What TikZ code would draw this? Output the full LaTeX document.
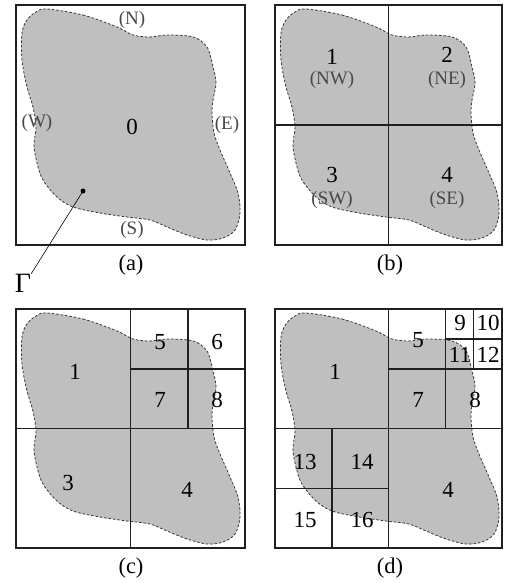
\documentclass[tikz,border=0pt]{standalone}
\usepackage{fontspec}
\setmainfont{Liberation Serif}
\begin{document}
\begin{tikzpicture}[x=1pt,y=-1pt,
  boxline/.style={draw=black!88,line width=1.5pt},
  blobfill/.style={fill=black!25,draw=black!78,dashed,dash pattern=on 2.6pt off 1.8pt,line width=0.8pt},
  num/.style={font=\fontsize{23}{25}\selectfont,inner sep=0pt,text=black},
  dir/.style={font=\fontsize{19}{21}\selectfont,inner sep=0pt,text=black!72},
  captext/.style={font=\fontsize{22.5}{24}\selectfont,inner sep=0pt}]
\useasboundingbox (0,0) rectangle (505,583);
\newcommand{\myblob}{plot[smooth cycle,tension=0.55] coordinates {(31,4) (67,10) (101,22) (117,30) (134,32) (151,30) (177,32) (191,42) (197,62) (200,78) (197,95) (196,108) (198,128) (204,145) (214,168) (222,188) (224,208) (219,225) (207,233) (191,235) (171,230) (151,222) (134,215) (111,212) (84,208) (57,202) (41,192) (27,175) (21,158) (18,140) (20,122) (17,102) (11,82) (6,55) (6,28) (11,15) (20,7)}}
% ---------- (a)
\begin{scope}[shift={(16,5)}]
  \path[blobfill] \myblob;
  \draw[boxline] (0,0) rectangle (229,240);
\end{scope}
\node[num] (z0) at (132,127) {0};
\node[dir] (n) at (132,20) {(N)};
\node[dir] (w) at (37,123) {(W)};
\node[dir] (e) at (227,125) {(E)};
\node[dir] (s) at (132,230) {(S)};
\node[circle,fill=black,inner sep=0pt,minimum size=5pt] (dot) at (83,191) {};
\node[font=\fontsize{28}{30}\selectfont,inner sep=0pt] (gamma) at (23,283) {Γ};
\draw[line width=0.6pt] (dot) -- (gamma.north east);
\node[captext] (ca) at (131,265) {(a)};
% ---------- (b)
\begin{scope}[shift={(275,5)}]
  \path[blobfill] \myblob;
  \draw[boxline] (0,0) rectangle (227,240);
  \draw[boxline] (113.5,0) -- (113.5,240) (0,120) -- (227,120);
\end{scope}
\node[num] (b1) at (332,57) {1};
\node[dir] (b1l) at (332,80) {(NW)};
\node[num] (b2) at (447,55) {2};
\node[dir] (b2l) at (447,80) {(NE)};
\node[num] (b3) at (332,175) {3};
\node[dir] (b3l) at (332,200) {(SW)};
\node[num] (b4) at (447,175) {4};
\node[dir] (b4l) at (447,200) {(SE)};
\node[captext] (cb) at (390,265) {(b)};
% ---------- (c)
\begin{scope}[shift={(16,309)}]
  \path[blobfill] \myblob;
  \draw[boxline] (0,0) rectangle (229,239);
  \draw[boxline] (114.5,0) -- (114.5,239) (0,119.5) -- (229,119.5);
  \draw[boxline] (171.75,0) -- (171.75,119.5) (114.5,59.75) -- (229,59.75);
\end{scope}
\node[num] (c1) at (75,372) {1};
\node[num] (c5) at (160,342) {5};
\node[num] (c6) at (217,342) {6};
\node[num] (c7) at (160,400) {7};
\node[num] (c8) at (217,400) {8};
\node[num] (c3) at (68,483) {3};
\node[num] (c4) at (187,490) {4};
\node[captext] (cc) at (131,568) {(c)};
% ---------- (d)
\begin{scope}[shift={(275,309)}]
  \path[blobfill] \myblob;
  \draw[boxline] (0,0) rectangle (227,239);
  \draw[boxline] (113.5,0) -- (113.5,239) (0,119.5) -- (227,119.5);
  \draw[boxline] (170.25,0) -- (170.25,119.5) (113.5,59.75) -- (227,59.75);
  \draw[boxline] (198.6,0) -- (198.6,59.75) (170.25,29.9) -- (227,29.9);
  \draw[boxline] (56.75,119.5) -- (56.75,239) (0,179.25) -- (113.5,179.25);
\end{scope}
\node[num] (d1) at (335,372) {1};
\node[num] (d5) at (418,340) {5};
\node[num] (d9) at (460,323) {9};
\node[num] (d10) at (488,323) {10};
\node[num] (d11) at (460,355) {11};
\node[num] (d12) at (488,355) {12};
\node[num] (d7) at (418,400) {7};
\node[num] (d8) at (475,400) {8};
\node[num] (d13) at (305,462) {13};
\node[num] (d14) at (362,462) {14};
\node[num] (d15) at (305,520) {15};
\node[num] (d16) at (362,520) {16};
\node[num] (d4) at (448,490) {4};
\node[captext] (cd) at (390,568) {(d)};
\end{tikzpicture}
\end{document}
